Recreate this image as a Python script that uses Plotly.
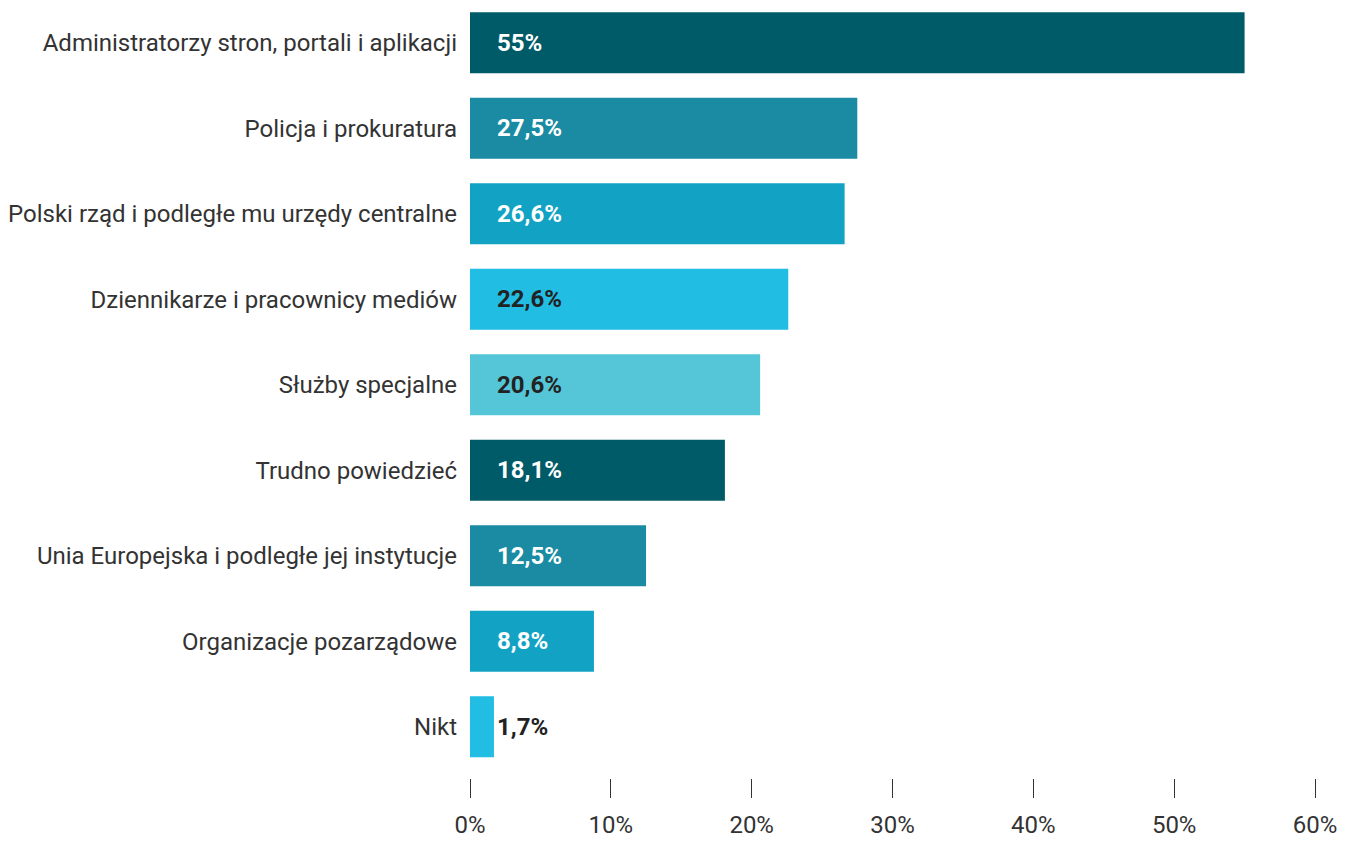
import plotly.graph_objects as go

categories = [
    "Administratorzy stron, portali i aplikacji",
    "Policja i prokuratura",
    "Polski rząd i podległe mu urzędy centralne",
    "Dziennikarze i pracownicy mediów",
    "Służby specjalne",
    "Trudno powiedzieć",
    "Unia Europejska i podległe jej instytucje",
    "Organizacje pozarządowe",
    "Nikt",
]
values = [55, 27.5, 26.6, 22.6, 20.6, 18.1, 12.5, 8.8, 1.7]
bar_colors = ["#005B69", "#1A8BA2", "#12A3C4", "#21BDE3", "#55C6D8",
              "#005B69", "#1A8BA2", "#12A3C4", "#21BDE3"]
label_colors = ["#FFFFFF", "#FFFFFF", "#FFFFFF", "#222222", "#222222",
                "#FFFFFF", "#FFFFFF", "#FFFFFF", "#222222"]
x_ticks = [0, 10, 20, 30, 40, 50, 60]


def fmt(v):
    s = f"{v:g}".replace(".", ",")
    return s + "%"


fig = go.Figure(
    go.Bar(
        x=values,
        y=categories,
        orientation="h",
        marker=dict(color=bar_colors, line=dict(width=0)),
        hoverinfo="skip",
    )
)

for cat, v, c in zip(categories, values, label_colors):
    fig.add_annotation(
        x=0, y=cat, xref="x", yref="y",
        text=f"<b>{fmt(v)}</b>",
        showarrow=False, xanchor="left", xshift=25,
        font=dict(family="Roboto", size=24, color=c),
    )

fig.update_layout(
    width=1352, height=841,
    margin=dict(l=470, r=37, t=0, b=63),
    paper_bgcolor="white", plot_bgcolor="white",
    bargap=0.286,
    showlegend=False,
    font=dict(family="Roboto", color="#333333"),
)
fig.update_xaxes(
    range=[0, 60], tickvals=x_ticks, ticktext=[f"{t}%" for t in x_ticks],
    showgrid=False, zeroline=False, showline=False,
    ticks="outside", ticklen=19, tickwidth=1, tickcolor="#333333",
    ticklabelstandoff=6, automargin=False,
    tickfont=dict(family="Roboto", size=24, color="#333333"),
)
fig.update_yaxes(
    categoryorder="array", categoryarray=categories[::-1],
    range=[-0.6, 8.5],
    showgrid=False, zeroline=False, showline=False,
    ticks="", ticklabelstandoff=12, automargin=False,
    tickfont=dict(family="Roboto", size=24, color="#333333"),
)

fig.write_html("out.html")
